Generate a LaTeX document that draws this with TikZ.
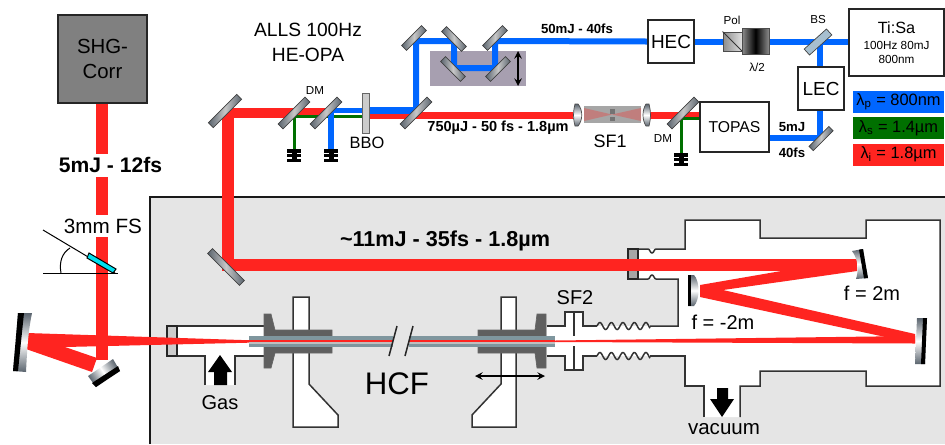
\documentclass[tikz,border=0pt]{standalone}
\usepackage{fontspec}
\setmainfont{Liberation Sans}
\usetikzlibrary{arrows,calc,backgrounds}

\newcommand{\fsz}[1]{\fontsize{#1}{#1}\selectfont}
\def\px{0.75pt}
\definecolor{beamred}{HTML}{FF2420}
\definecolor{beamblue}{HTML}{0066FF}
\definecolor{beamgreen}{HTML}{007000}
\definecolor{fibregray}{HTML}{7F969E}
\definecolor{flangegray}{HTML}{5F5F5F}
\definecolor{panelgray}{HTML}{E5E5E5}
\definecolor{steel}{HTML}{5A646E}
\definecolor{stagegray}{HTML}{A79FB0}
\definecolor{splitblue}{HTML}{A7BFCF}
\definecolor{platecyan}{HTML}{00E0F0}

\tikzset{
  lbl/.style={inner sep=0pt, font=\fsz{#1}, align=center},
  blbl/.style={inner sep=0pt, font=\fsz{#1}\bfseries},
  boxed/.style 2 args={draw=black!85, line width=1.5*\px, fill=white, inner sep=0pt, align=center, minimum width=#1*\px, minimum height=#2*\px},
  mirror/.style 2 args={rectangle, draw=black!75, line width=0.7*\px, inner sep=0pt, minimum width=#1*\px, minimum height=#2*\px, left color=steel, right color=steel, middle color=black!22},
  legend/.style={inner sep=0pt, minimum width=91*\px, minimum height=22*\px, font=\fsz{12.3}},
  beam/.style 2 args={draw=#1, line width=#2*\px, line join=miter},
  wall/.style={draw=black!80, line width=1.5*\px, line join=miter},
  glass/.style={top color=steel, bottom color=steel, middle color=white},
  dump/.pic={
    \fill[black] (-7,0) rectangle (7,3.5);
    \fill[black] (-7,4.8) rectangle (7,8.2);
    \fill[black] (-7,9.6) rectangle (7,13);
    \fill[black] (-2.5,0) rectangle (2.5,13);
  },
}

\begin{document}
\begin{tikzpicture}[x=0.75pt, y=-0.75pt]
  \useasboundingbox (0,0) rectangle (945,444);

  \coordinate (cTop) at (228,113);
  \coordinate (cLow) at (228,264.5);
  \coordinate (cUp) at (416,41);
  \coordinate (cPump) at (820,138);

  % boxes
  \node[boxed={89}{88}, fill=black!50, font=\fsz{15.3}] (shg) at (102.5,59) {SHG-\\[4pt]Corr};
  \node[boxed={46}{43}, font=\fsz{14.2}] (hec) at (671,41.5) {HEC};
  \node[boxed={46}{43}, font=\fsz{14.2}] (lec) at (821,88.5) {LEC};
  \node[boxed={69}{50}, font=\fsz{11.8}] (topas) at (734.5,127) {TOPAS};
  \node[boxed={95}{67}] (tisa) at (896.5,42.5) {\fsz{12.2}Ti:Sa\\[-0.5pt]\fsz{8.8}100Hz 80mJ\\[-1.5pt]\fsz{8.8}800nm};

  \node[legend, fill=beamblue] (lamp) at (898.5,102) {λ\textsubscript{p} = 800nm};
  \node[legend, fill=beamgreen] (lams) at (898.5,128) {λ\textsubscript{s} = 1.4µm};
  \node[legend, fill=beamred] (lami) at (898.5,154.5) {λ\textsubscript{i} = 1.8µm};

  % delay stage
  \node[minimum width=96*\px, minimum height=35*\px] (stage) at (478,68.5) {};
  \draw[<->, >=stealth, black, line width=2*\px] (518,51) -- (518,86);

  % mirrors
  \node[mirror={40}{7}, rotate=45] (mTop) at (225,111) {};
  \node[mirror={45}{7}, rotate=-45] (mLow) at (226,267) {};
  \node[mirror={38}{7}, rotate=45] (dmA) at (294,113) {};
  \node[mirror={38}{7}, rotate=45] (dmB) at (326,113) {};
  \node[mirror={38}{7}, rotate=45] (mSplit) at (416,113) {};
  \node[mirror={28}{7}, rotate=45] (mUp) at (414,38) {};
  \node[mirror={28}{7}, rotate=-45] (mDelayA) at (454,39) {};
  \node[mirror={28}{7}, rotate=45] (mDelayB) at (495,38) {};
  \node[mirror={28}{7}, rotate=-45] (mDelayC) at (453,69) {};
  \node[mirror={28}{7}, rotate=45] (mDelayD) at (498,69) {};
  \node[mirror={38}{7}, rotate=45] (dmC) at (683,113) {};
  \node[mirror={28}{6}, rotate=45] (mPump) at (821,138.5) {};
  \node[rectangle, draw=black!75, line width=0.7*\px, fill=splitblue, minimum width=30*\px, minimum height=8*\px, inner sep=0pt, rotate=42] (bs) at (818,42) {};

  \node[draw=black!60, line width=0.7*\px, fill=black!20, minimum width=7*\px, minimum height=40*\px, inner sep=0pt] (bbo) at (365.5,113) {};

  % polariser and waveplate
  \node[draw=black!70, line width=1*\px, left color=black!45, right color=black!12, minimum width=19*\px, minimum height=19*\px, inner sep=0pt] (pol) at (732.5,41.5) {};
  \draw[black!80, line width=1*\px] (pol.north west) -- (pol.south east);
  \node[draw=black!70, line width=1*\px, left color=black!45, right color=black!45, middle color=black, minimum width=27*\px, minimum height=26*\px, inner sep=0pt] (plate) at (755.5,41) {};

  % SF1
  \node[fill=black!35, minimum width=57*\px, minimum height=17*\px, inner sep=0pt] (sfone) at (612.5,114.5) {};
  \fill[beamred, opacity=0.3] (584,108) -- (612,114.5) -- (584,121) -- cycle;
  \fill[beamred, opacity=0.3] (641,108) -- (612,114.5) -- (641,121) -- cycle;
  \fill[black!55] (610,109) rectangle (615,114);
  \fill[black!55] (610,117) rectangle (615,121);
  \shade[draw=black!70, line width=0.7*\px, glass] (575,104) -- (578,104) .. controls (583,110) and (583,120) .. (578,126) -- (575,126) .. controls (573,118) and (573,112) .. (575,104) -- cycle;
  \shade[draw=black!70, line width=0.7*\px, glass] (649,104) -- (646,104) .. controls (642,110) and (642,120) .. (646,126) -- (649,126) .. controls (651,118) and (651,112) .. (649,104) -- cycle;

  \pic at (294,149) {dump};
  \pic at (331,149) {dump};
  \pic at (681,153) {dump};

  % fused silica plate
  \draw[black, line width=1*\px] (43,273) -- (118,273);
  \draw[black, line width=1*\px] (43,230) -- (115,273);
  \draw[black, line width=1*\px] (61,273) .. controls (59,262) and (62,253) .. (70,248);
  \fill[platecyan, draw=black, line width=1*\px] (89,253) -- (116,269) -- (113,273) -- (87,258) -- cycle;

  % folding mirrors
  \shade[glass] (18,313) -- (32,313) .. controls (28,332) and (27,352) .. (26,372) -- (13,371) -- cycle;
  \fill[black] (18,313) -- (24,313) -- (18,371) -- (13,371) -- cycle;
  \shade[left color=steel, right color=steel, middle color=white, shading angle=124] (88,376) -- (113,359) -- (120,371) -- (96,387) -- cycle;
  \fill[black] (92,383) -- (118,366) -- (120,371) -- (96,387) -- cycle;

  % fibre mounts
  \draw[wall, fill=white] (293,297) -- (309,297) -- (309,384) -- (338,415) -- (338,427) -- (293,427) -- cycle;
  \draw[wall, fill=white] (501,297) -- (516,297) -- (516,427) -- (472,427) -- (472,415) -- (501,384) -- cycle;

  % flanges
  \fill[flangegray, draw=black!60, line width=0.7*\px] (264,314) -- (271,314) -- (275,330) -- (332,330) -- (332,353) -- (275,353) -- (271,368) -- (264,368) -- cycle;
  \fill[flangegray, draw=black!60, line width=0.7*\px] (546,314) -- (537,314) -- (535,330) -- (478,330) -- (478,353) -- (535,353) -- (537,368) -- (546,368) -- cycle;

  % hollow fibre
  \fill[fibregray] (249,336) rectangle (393,347);
  \fill[fibregray] (409,336) rectangle (555,347);
  \fill[black!25] (249,339.5) rectangle (393,343.5);
  \fill[black!25] (409,339.5) rectangle (555,343.5);
  \draw[beamred, line width=2*\px] (249,341.3) -- (393,341.3);
  \draw[beamred, line width=2*\px] (409,341.3) -- (555,341.3);
  \draw[black!85, line width=1.5*\px] (397,326) -- (389,356);
  \draw[black!85, line width=1.5*\px] (413,326) -- (405,356);

  \draw[<->, >=stealth, black, line width=2*\px] (475,376) -- (545,376);

  % chamber mirrors
  \shade[glass] (688,275) -- (694,275) .. controls (700,281) and (700,300) .. (694,306) -- (688,306) -- cycle;
  \fill[black] (688,275) rectangle (691,306);
  \shade[glass] (852,251) -- (863,249) -- (868,278) -- (856,279) .. controls (859,270) and (858,259) .. (852,251) -- cycle;
  \fill[black] (859,249.7) -- (863,249) -- (868,278) -- (864,278.4) -- cycle;
  \shade[glass] (917,318) -- (927,318) -- (925,364) -- (915,364) -- cycle;
  \fill[black] (923,318) -- (927,318) -- (925,364) -- (921,364) -- cycle;

  % gas and vacuum arrows
  \fill[black] (220,355) -- (232,372) -- (227,372) -- (227,385) -- (214,385) -- (214,372) -- (208,372) -- cycle;
  \fill[black] (722,417) -- (734,399) -- (728,399) -- (728,388) -- (717,388) -- (717,399) -- (710,399) -- cycle;

  % labels
  \node[lbl={14.4}] (alls) at (308,30) {ALLS 100Hz};
  \node[lbl={14.4}] (heopa) at (308,55) {HE-OPA};
  \node[lbl={8.7}] (dmlblA) at (315,91) {DM};
  \node[lbl={8.7}] (dmlblC) at (663,139) {DM};
  \node[lbl={12.3}] (bbolbl) at (367,143) {BBO};
  \node[lbl={8.7}] (pollbl) at (732,20) {Pol};
  \node[lbl={8.7}] (platelbl) at (757,67) {λ/2};
  \node[lbl={8.7}] (bslbl) at (818,20) {BS};
  \node[lbl={13.5}] (sfonelbl) at (610,141) {SF1};
  \node[blbl={9.9}] (fiftylbl) at (577,29) {50mJ - 40fs};
  \node[blbl={10.9}] (idlerlbl) at (498,128) {750µJ - 50 fs - 1.8µm};
  \node[blbl={9.9}] (pumplblA) at (792,127) {5mJ};
  \node[blbl={9.9}] (pumplblB) at (792,153) {40fs};
  \node[blbl={15.8}, fill=white, minimum height=23*\px] (inlbl) at (110.5,165) {5mJ - 12fs};
  \node[blbl={16.2}] (outlbl) at (445,241) {\textasciitilde11mJ - 35fs - 1.8µm};
  \node[lbl={15.5}, fill=white, minimum height=22*\px] (fslbl) at (103,226) {3mm FS};
  \node[lbl={15}] (gaslbl) at (220,403) {Gas};
  \node[lbl={23.4}] (hcflbl) at (397,384) {HCF};
  \node[lbl={15}] (sftwolbl) at (575,298) {SF2};
  \node[lbl={15}] (fposlbl) at (872,293) {f = 2m};
  \node[lbl={15}] (fneglbl) at (723,322) {f = -2m};
  \node[lbl={15.4}] (vaclbl) at (724,429) {vacuum};

  \begin{scope}[on background layer]
    \fill[panelgray] (150,197) rectangle (945,444);
    \draw[black!90, line width=2*\px] (150,444) -- (150,197) -- (945,197);

    % gas cell
    \fill[white] (177,326) -- (264,326) -- (264,356) -- (235,356) -- (235,385) -- (205,385) -- (205,356) -- (177,356) -- cycle;
    \draw[wall] (177,326) -- (264,326);
    \draw[wall] (264,356) -- (235,356) -- (235,385);
    \draw[wall] (205,385) -- (205,356) -- (177,356);
    \draw[black!85, line width=1.5*\px, fill=black!20] (167,326) rectangle (177,356);

    % chamber
    \fill[white] (638,249) -- (685,249) -- (685,220) -- (760,220) -- (760,238) -- (866,238) -- (866,220) -- (940,220) -- (940,386) -- (866,386) -- (866,371) -- (760,371) -- (760,386) -- (740,386) -- (740,417) -- (704,417) -- (704,386) -- (685,386) -- (685,356) -- (547,356) -- (547,326) -- (678,326) -- (678,279) -- (638,279) -- cycle;
    \fill[white] (565,312) rectangle (583,370);
    \draw[wall] (638,249) -- (648,249) .. controls (650,249) and (650,253) .. (652,253) .. controls (654,253) and (654,249) .. (656,249) -- (685,249) -- (685,220) -- (760,220) -- (760,238) -- (866,238) -- (866,220) -- (940,220) -- (940,386) -- (866,386) -- (866,371) -- (760,371) -- (760,386) -- (740,386) -- (740,417);
    \draw[wall] (704,417) -- (704,386) -- (685,386) -- (685,356) -- (650,356);
    \draw[wall] (650,326) -- (678,326) -- (678,279) -- (656,279) .. controls (654,279) and (654,275) .. (652,275) .. controls (650,275) and (650,279) .. (648,279) -- (638,279);
    \draw[wall, samples=80, domain=597:650] plot ({\x},{326-3.5*sin(31.3*(\x-597))});
    \draw[wall, samples=80, domain=597:650] plot ({\x},{356-3.5*sin(31.3*(\x-597))});
    \draw[wall] (547,326) -- (565,326) -- (565,312) -- (583,312) -- (583,326) -- (597,326);
    \draw[wall] (547,356) -- (565,356) -- (565,370) -- (583,370) -- (583,356) -- (597,356);
    \draw[wall] (574,312) -- (574,336);
    \draw[wall] (574,346) -- (574,370);
    \draw[black!85, line width=1.5*\px, fill=black!35] (628,249) rectangle (638,279);

    % delay stage
    \fill[stagegray] (stage.north west) rectangle (stage.south east);

    % red beams
    \draw[beam={beamred}{12}] (shg.south -| 102,0) -- (102,360);
    \fill[beamred] (27,333) -- (257,340.5) -- (257,342.5) -- (65,347) -- (97,358) -- (92,372) -- (26,349) -- cycle;
    \fill[beamred] (555,340.5) -- (915,336) -- (915,343.5) -- (555,342) -- cycle;
    \fill[beamred] (700,285) -- (787,270) -- (857,267) -- (857,271) -- (723,290) -- (700,290) -- cycle;
    \fill[beamred] (700,290) -- (723,290) -- (915,334) -- (915,343) -- (890,338) -- (700,297) -- cycle;
    \draw[beam={beamred}{12}] (857,264.5) -- (cLow) -- ($(cTop)+(0,-5)$);
    \draw[beam={beamred}{10}] ($(cTop)+(-6,0)$) -- (dmA.center);
    \draw[beam={beamred}{7}] (dmA.center |- 0,111.5) -- (dmB.center |- 0,111.5);
    \draw[beam={beamred}{5.5}] (bbo.center |- 0,116) -- (mSplit.center |- 0,116);
    \draw[beam={beamred}{7}] (mSplit.center |- 0,115.5) -- (575,115.5);
    \draw[beam={beamred}{7}] (650,115.5) -- (dmC.center |- 0,115.5);
    \draw[beam={beamred}{5}] (dmC.center |- 0,114.5) -- (topas.west |- 0,114.5);

    % green beams
    \draw[beam={beamgreen}{3}] (dmA.center |- 0,116.5) -- (bbo.center |- 0,116.5);
    \draw[beam={beamgreen}{3}] (dmA.center |- 0,116) -- (294,150);
    \draw[beam={beamgreen}{3}] (681,118.5) -- (topas.west |- 0,118.5);
    \draw[beam={beamgreen}{3}] (681,118) -- (681,154);

    % blue beams
    \draw[beam={beamblue}{5.5}] (dmB.center |- 0,110.5) -- (bbo.center |- 0,110.5);
    \draw[beam={beamblue}{6}] (331,111) -- (331,150);
    \draw[beam={beamblue}{6.5}] (bbo.center |- 0,110.5) -- (416,110.5);
    \draw[beam={beamblue}{6}] (416,113) -- (cUp) -- (454,41) -- (454,68) -- (495,68) -- (495,41) -- (hec.west);
    \draw[beam={beamblue}{6}] (tisa.west |- hec.east) -- (hec.east);
    \draw[beam={beamblue}{6}] (820,41) -- (lec.north -| 820,0);
    \draw[beam={beamblue}{6}] (lec.south -| 820,0) -- (cPump) -- (topas.east |- cPump);
  \end{scope}
\end{tikzpicture}
\end{document}
